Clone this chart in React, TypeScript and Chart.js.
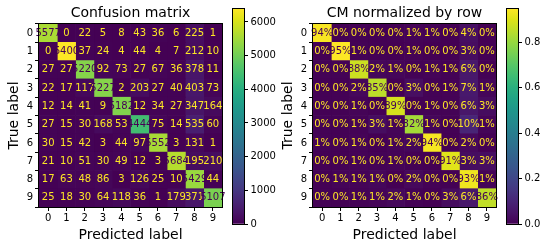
import React, { useEffect, useRef } from 'react';
import { Chart, registerables } from 'chart.js';

Chart.register(...registerables);

const FONT = 'DejaVu Sans';

// Class labels (digits) used on both axes
const classLabels = ['0', '1', '2', '3', '4', '5', '6', '7', '8', '9'];

// Confusion matrix counts (rows = true label, columns = predicted label)
const confusionCounts: number[][] = [
  [5577, 0, 22, 5, 8, 43, 36, 6, 225, 1],
  [0, 6400, 37, 24, 4, 44, 4, 7, 212, 10],
  [27, 27, 5220, 92, 73, 27, 67, 36, 378, 11],
  [22, 17, 117, 5227, 2, 203, 27, 40, 403, 73],
  [12, 14, 41, 9, 5182, 12, 34, 27, 347, 164],
  [27, 15, 30, 168, 53, 4444, 75, 14, 535, 60],
  [30, 15, 42, 3, 44, 97, 5552, 3, 131, 1],
  [21, 10, 51, 30, 49, 12, 3, 5684, 195, 210],
  [17, 63, 48, 86, 3, 126, 25, 10, 5429, 44],
  [25, 18, 30, 64, 118, 36, 1, 179, 371, 5107],
];

// Colorbar tick labels
const countTicks = [0, 1000, 2000, 3000, 4000, 5000, 6000];
const normTicks = [0, 0.2, 0.4, 0.6, 0.8];

// Row-normalized matrix (derived from the counts)
const rowSums = confusionCounts.map((r) => r.reduce((a, b) => a + b, 0));
const normalizedRows = confusionCounts.map((r, i) => r.map((v) => v / rowSums[i]));

const VIRIDIS = [
  '#440154', '#481467', '#482576', '#453781', '#404688', '#39568c', '#33638d',
  '#2d718e', '#287d8e', '#238a8d', '#1f968b', '#20a386', '#29af7f', '#3dbc74',
  '#56c667', '#75d054', '#95d840', '#badd2b', '#dce318', '#fde725',
];

function hexToRgb(h: string) {
  return [parseInt(h.slice(1, 3), 16), parseInt(h.slice(3, 5), 16), parseInt(h.slice(5, 7), 16)];
}

function viridis(t: number) {
  const tt = Math.max(0, Math.min(1, t)) * (VIRIDIS.length - 1);
  const i = Math.min(Math.floor(tt), VIRIDIS.length - 2);
  const f = tt - i;
  const a = hexToRgb(VIRIDIS[i]);
  const b = hexToRgb(VIRIDIS[i + 1]);
  const c = a.map((v, k) => Math.round(v + (b[k] - v) * f));
  return `rgb(${c[0]},${c[1]},${c[2]})`;
}

const framePlugin = {
  id: 'frame',
  afterDraw(chart: any) {
    const { ctx, chartArea: a } = chart;
    ctx.save();
    ctx.strokeStyle = '#000';
    ctx.lineWidth = 1;
    const l = Math.round(a.left) - 0.5;
    const t = Math.round(a.top) - 0.5;
    const r = Math.round(a.right) + 0.5;
    const b = Math.round(a.bottom) + 0.5;
    ctx.strokeRect(l, t, r - l, b - t);
    ctx.restore();
  },
};

const tickFont = { family: FONT, size: 10 };
const labelFont = { family: FONT, size: 14 };

function makeHeatmap(canvas: HTMLCanvasElement, values: number[][], fmt: (v: number) => string, title: string) {
  const vmax = Math.max(...values.map((r) => Math.max(...r)));
  const vmin = Math.min(...values.map((r) => Math.min(...r)));
  const thresh = (vmax + vmin) / 2;
  const datasets = classLabels.map((_, j) => ({
    label: 'pred ' + j,
    data: classLabels.map(() => [j - 0.5, j + 0.5]),
    backgroundColor: classLabels.map((_, i) => viridis((values[i][j] - vmin) / (vmax - vmin))),
    borderWidth: 0,
    barPercentage: 1,
    categoryPercentage: 1,
    grouped: false,
  }));
  const cellText = {
    id: 'cellText',
    afterDatasetsDraw(chart: any) {
      const { ctx } = chart;
      const x = chart.scales.x;
      const y = chart.scales.y;
      ctx.save();
      ctx.font = `10px "${FONT}"`;
      ctx.textAlign = 'center';
      ctx.textBaseline = 'middle';
      values.forEach((row, i) =>
        row.forEach((v, j) => {
          ctx.fillStyle = v < thresh ? VIRIDIS[VIRIDIS.length - 1] : VIRIDIS[0];
          ctx.fillText(fmt(v), x.getPixelForValue(j), y.getPixelForValue(i));
        })
      );
      ctx.restore();
    },
  };
  return new Chart(canvas, {
    type: 'bar',
    data: { labels: classLabels, datasets: datasets as any },
    options: {
      indexAxis: 'y',
      animation: false,
      responsive: false,
      layout: { padding: { left: 0, right: 6, top: 0, bottom: 0 } },
      plugins: {
        legend: { display: false },
        tooltip: { enabled: false },
        title: {
          display: true,
          text: title,
          fullSize: false,
          color: '#000',
          font: { family: FONT, size: 14, weight: 'normal' },
          padding: { top: 5, bottom: 2.2 },
        },
      },
      scales: {
        x: {
          type: 'linear',
          position: 'bottom',
          min: -0.5,
          max: 9.5,
          afterBuildTicks: (s: any) => {
            s.ticks = classLabels.map((_, k) => ({ value: k }));
          },
          afterFit: (s: any) => {
            s.height = 42;
          },
          ticks: {
            autoSkip: false,
            maxRotation: 0,
            color: '#000',
            font: tickFont,
            padding: 1,
            callback: (v: any) => classLabels[v],
          },
          grid: { drawOnChartArea: false, tickLength: 4, tickColor: '#000', tickWidth: 1 },
          border: { display: false },
          title: { display: true, text: 'Predicted label', color: '#000', font: labelFont, padding: { top: 0, bottom: 5.5 } },
        },
        y: {
          type: 'category',
          position: 'left',
          afterFit: (s: any) => {
            s.width = 39;
          },
          ticks: { autoSkip: false, color: '#000', font: tickFont, padding: 2 },
          grid: { drawOnChartArea: false, tickLength: 4, tickColor: '#000', tickWidth: 1 },
          border: { display: false },
          title: { display: true, text: 'True label', color: '#000', font: labelFont, padding: { top: 6, bottom: 0 } },
        },
      },
    } as any,
    plugins: [cellText, framePlugin],
  });
}

function makeColorbar(canvas: HTMLCanvasElement, values: number[][], ticks: number[], fmt: (v: number) => string, axisWidth: number) {
  const vmax = Math.max(...values.map((r) => Math.max(...r)));
  return new Chart(canvas, {
    type: 'bar',
    data: {
      labels: [''],
      datasets: [
        {
          data: [[0, vmax]] as any,
          backgroundColor: (c: any) => {
            const chart = c.chart;
            const a = chart.chartArea;
            if (!a) return VIRIDIS[0];
            const g = chart.ctx.createLinearGradient(0, a.bottom, 0, a.top);
            VIRIDIS.forEach((col, k) => g.addColorStop(k / (VIRIDIS.length - 1), col));
            return g;
          },
          borderWidth: 0,
          barPercentage: 1,
          categoryPercentage: 1,
        },
      ],
    },
    options: {
      animation: false,
      responsive: false,
      layout: { padding: { left: 5, top: 7, bottom: 25, right: 0 } },
      plugins: { legend: { display: false }, tooltip: { enabled: false }, title: { display: false } },
      scales: {
        x: { display: false },
        y: {
          position: 'right',
          min: 0,
          max: vmax,
          afterBuildTicks: (s: any) => {
            s.ticks = ticks.map((v) => ({ value: v }));
          },
          afterFit: (s: any) => {
            s.width = axisWidth;
          },
          ticks: { color: '#000', font: tickFont, padding: 2.5, callback: (v: any) => fmt(Number(v)) },
          grid: { drawOnChartArea: false, tickLength: 4, tickColor: '#000', tickWidth: 1 },
          border: { display: false },
        },
      },
    } as any,
    plugins: [framePlugin],
  });
}

export default function App() {
  const h1 = useRef<HTMLCanvasElement>(null);
  const c1 = useRef<HTMLCanvasElement>(null);
  const h2 = useRef<HTMLCanvasElement>(null);
  const c2 = useRef<HTMLCanvasElement>(null);

  useEffect(() => {
    const charts = [
      makeHeatmap(h1.current!, confusionCounts, (v) => String(v), 'Confusion matrix'),
      makeColorbar(c1.current!, confusionCounts, countTicks, (v) => String(v), 34),
      makeHeatmap(h2.current!, normalizedRows, (v) => Math.round(v * 100) + '%', 'CM normalized by row'),
      makeColorbar(c2.current!, normalizedRows, normTicks, (v) => v.toFixed(1), 29),
    ];
    return () => charts.forEach((c) => c.destroy());
  }, []);

  const abs = (left: number): React.CSSProperties => ({ position: 'absolute', left, top: 0 });
  return (
    <div style={{ position: 'fixed', left: 0, top: 0, width: 547, height: 249, background: '#fff' }}>
      <canvas ref={h1} width={228} height={249} style={abs(0)} />
      <canvas ref={c1} width={50} height={249} style={abs(228)} />
      <canvas ref={h2} width={228} height={249} style={abs(274)} />
      <canvas ref={c2} width={45} height={249} style={abs(502)} />
    </div>
  );
}
